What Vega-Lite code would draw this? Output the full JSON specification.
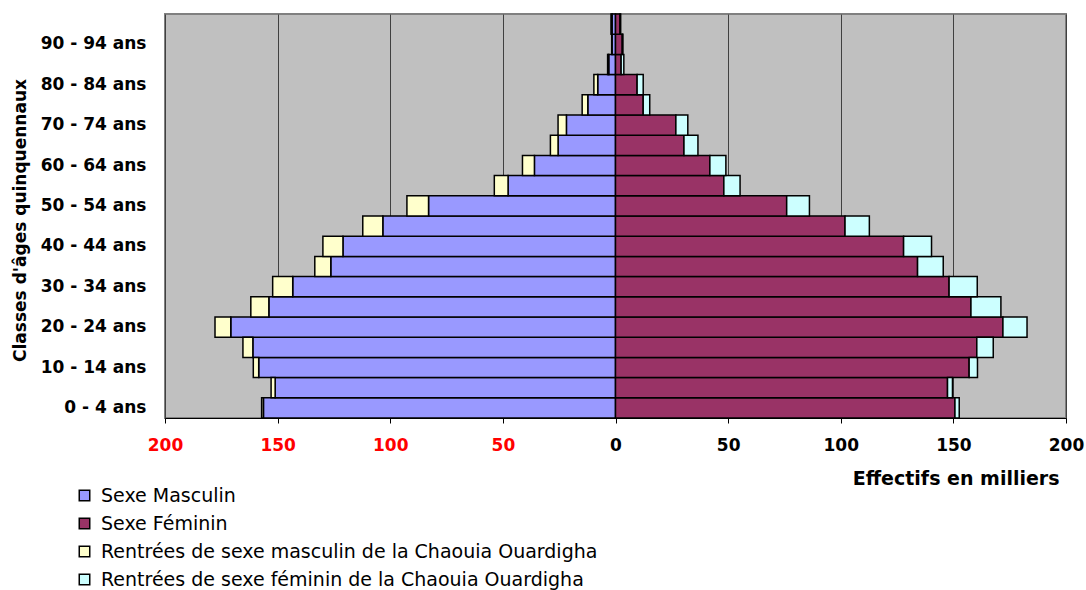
{
  "$schema": "https://vega.github.io/schema/vega-lite/v6.json",
  "autosize": "none",
  "width": 901,
  "height": 404,
  "padding": {"left": 165, "top": 14, "right": 20, "bottom": 172},
  "background": "white",
  "config": {
    "view": {"fill": "#C0C0C0", "stroke": "#808080", "strokeWidth": 2},
    "font": "DejaVu Sans"
  },
  "data": {
    "values": [
      {"age": "0 - 4 ans", "serie": "Sexe Masculin", "ord": 1, "effectif": -156.3},
      {"age": "5 - 9 ans", "serie": "Sexe Masculin", "ord": 1, "effectif": -151.1},
      {"age": "10 - 14 ans", "serie": "Sexe Masculin", "ord": 1, "effectif": -158.4},
      {"age": "15 - 19 ans", "serie": "Sexe Masculin", "ord": 1, "effectif": -161.0},
      {"age": "20 - 24 ans", "serie": "Sexe Masculin", "ord": 1, "effectif": -170.8},
      {"age": "25 - 29 ans", "serie": "Sexe Masculin", "ord": 1, "effectif": -153.9},
      {"age": "30 - 34 ans", "serie": "Sexe Masculin", "ord": 1, "effectif": -143.3},
      {"age": "35 - 39 ans", "serie": "Sexe Masculin", "ord": 1, "effectif": -126.4},
      {"age": "40 - 44 ans", "serie": "Sexe Masculin", "ord": 1, "effectif": -121.0},
      {"age": "45 - 49 ans", "serie": "Sexe Masculin", "ord": 1, "effectif": -103.3},
      {"age": "50 - 54 ans", "serie": "Sexe Masculin", "ord": 1, "effectif": -83.0},
      {"age": "55 - 59 ans", "serie": "Sexe Masculin", "ord": 1, "effectif": -47.7},
      {"age": "60 - 64 ans", "serie": "Sexe Masculin", "ord": 1, "effectif": -36.0},
      {"age": "65 - 69 ans", "serie": "Sexe Masculin", "ord": 1, "effectif": -25.5},
      {"age": "70 - 74 ans", "serie": "Sexe Masculin", "ord": 1, "effectif": -21.8},
      {"age": "75 - 79 ans", "serie": "Sexe Masculin", "ord": 1, "effectif": -12.3},
      {"age": "80 - 84 ans", "serie": "Sexe Masculin", "ord": 1, "effectif": -7.9},
      {"age": "85 - 89 ans", "serie": "Sexe Masculin", "ord": 1, "effectif": -3.0},
      {"age": "90 - 94 ans", "serie": "Sexe Masculin", "ord": 1, "effectif": -1.5},
      {"age": "95 ans et +", "serie": "Sexe Masculin", "ord": 1, "effectif": -1.5},

      {"age": "0 - 4 ans", "serie": "Rentrées  de sexe masculin de la Chaouia Ouardigha", "ord": 2, "effectif": -0.8},
      {"age": "5 - 9 ans", "serie": "Rentrées  de sexe masculin de la Chaouia Ouardigha", "ord": 2, "effectif": -1.8},
      {"age": "10 - 14 ans", "serie": "Rentrées  de sexe masculin de la Chaouia Ouardigha", "ord": 2, "effectif": -2.4},
      {"age": "15 - 19 ans", "serie": "Rentrées  de sexe masculin de la Chaouia Ouardigha", "ord": 2, "effectif": -4.4},
      {"age": "20 - 24 ans", "serie": "Rentrées  de sexe masculin de la Chaouia Ouardigha", "ord": 2, "effectif": -7.0},
      {"age": "25 - 29 ans", "serie": "Rentrées  de sexe masculin de la Chaouia Ouardigha", "ord": 2, "effectif": -8.0},
      {"age": "30 - 34 ans", "serie": "Rentrées  de sexe masculin de la Chaouia Ouardigha", "ord": 2, "effectif": -8.9},
      {"age": "35 - 39 ans", "serie": "Rentrées  de sexe masculin de la Chaouia Ouardigha", "ord": 2, "effectif": -7.1},
      {"age": "40 - 44 ans", "serie": "Rentrées  de sexe masculin de la Chaouia Ouardigha", "ord": 2, "effectif": -8.9},
      {"age": "45 - 49 ans", "serie": "Rentrées  de sexe masculin de la Chaouia Ouardigha", "ord": 2, "effectif": -8.9},
      {"age": "50 - 54 ans", "serie": "Rentrées  de sexe masculin de la Chaouia Ouardigha", "ord": 2, "effectif": -9.6},
      {"age": "55 - 59 ans", "serie": "Rentrées  de sexe masculin de la Chaouia Ouardigha", "ord": 2, "effectif": -6.1},
      {"age": "60 - 64 ans", "serie": "Rentrées  de sexe masculin de la Chaouia Ouardigha", "ord": 2, "effectif": -5.3},
      {"age": "65 - 69 ans", "serie": "Rentrées  de sexe masculin de la Chaouia Ouardigha", "ord": 2, "effectif": -3.4},
      {"age": "70 - 74 ans", "serie": "Rentrées  de sexe masculin de la Chaouia Ouardigha", "ord": 2, "effectif": -3.7},
      {"age": "75 - 79 ans", "serie": "Rentrées  de sexe masculin de la Chaouia Ouardigha", "ord": 2, "effectif": -2.5},
      {"age": "80 - 84 ans", "serie": "Rentrées  de sexe masculin de la Chaouia Ouardigha", "ord": 2, "effectif": -1.7},
      {"age": "85 - 89 ans", "serie": "Rentrées  de sexe masculin de la Chaouia Ouardigha", "ord": 2, "effectif": -0.5},
      {"age": "90 - 94 ans", "serie": "Rentrées  de sexe masculin de la Chaouia Ouardigha", "ord": 2, "effectif": -0.2},
      {"age": "95 ans et +", "serie": "Rentrées  de sexe masculin de la Chaouia Ouardigha", "ord": 2, "effectif": -0.5},

      {"age": "0 - 4 ans", "serie": "Sexe Féminin", "ord": 1, "effectif": 150.7},
      {"age": "5 - 9 ans", "serie": "Sexe Féminin", "ord": 1, "effectif": 147.4},
      {"age": "10 - 14 ans", "serie": "Sexe Féminin", "ord": 1, "effectif": 157.0},
      {"age": "15 - 19 ans", "serie": "Sexe Féminin", "ord": 1, "effectif": 160.4},
      {"age": "20 - 24 ans", "serie": "Sexe Féminin", "ord": 1, "effectif": 172.0},
      {"age": "25 - 29 ans", "serie": "Sexe Féminin", "ord": 1, "effectif": 157.8},
      {"age": "30 - 34 ans", "serie": "Sexe Féminin", "ord": 1, "effectif": 148.1},
      {"age": "35 - 39 ans", "serie": "Sexe Féminin", "ord": 1, "effectif": 134.1},
      {"age": "40 - 44 ans", "serie": "Sexe Féminin", "ord": 1, "effectif": 127.9},
      {"age": "45 - 49 ans", "serie": "Sexe Féminin", "ord": 1, "effectif": 101.9},
      {"age": "50 - 54 ans", "serie": "Sexe Féminin", "ord": 1, "effectif": 76.0},
      {"age": "55 - 59 ans", "serie": "Sexe Féminin", "ord": 1, "effectif": 48.1},
      {"age": "60 - 64 ans", "serie": "Sexe Féminin", "ord": 1, "effectif": 41.9},
      {"age": "65 - 69 ans", "serie": "Sexe Féminin", "ord": 1, "effectif": 30.4},
      {"age": "70 - 74 ans", "serie": "Sexe Féminin", "ord": 1, "effectif": 26.8},
      {"age": "75 - 79 ans", "serie": "Sexe Féminin", "ord": 1, "effectif": 12.3},
      {"age": "80 - 84 ans", "serie": "Sexe Féminin", "ord": 1, "effectif": 9.6},
      {"age": "85 - 89 ans", "serie": "Sexe Féminin", "ord": 1, "effectif": 2.5},
      {"age": "90 - 94 ans", "serie": "Sexe Féminin", "ord": 1, "effectif": 3.0},
      {"age": "95 ans et +", "serie": "Sexe Féminin", "ord": 1, "effectif": 2.0},

      {"age": "0 - 4 ans", "serie": "Rentrées  de sexe féminin de la Chaouia Ouardigha", "ord": 2, "effectif": 1.9},
      {"age": "5 - 9 ans", "serie": "Rentrées  de sexe féminin de la Chaouia Ouardigha", "ord": 2, "effectif": 2.2},
      {"age": "10 - 14 ans", "serie": "Rentrées  de sexe féminin de la Chaouia Ouardigha", "ord": 2, "effectif": 3.7},
      {"age": "15 - 19 ans", "serie": "Rentrées  de sexe féminin de la Chaouia Ouardigha", "ord": 2, "effectif": 7.3},
      {"age": "20 - 24 ans", "serie": "Rentrées  de sexe féminin de la Chaouia Ouardigha", "ord": 2, "effectif": 10.7},
      {"age": "25 - 29 ans", "serie": "Rentrées  de sexe féminin de la Chaouia Ouardigha", "ord": 2, "effectif": 13.3},
      {"age": "30 - 34 ans", "serie": "Rentrées  de sexe féminin de la Chaouia Ouardigha", "ord": 2, "effectif": 12.5},
      {"age": "35 - 39 ans", "serie": "Rentrées  de sexe féminin de la Chaouia Ouardigha", "ord": 2, "effectif": 11.4},
      {"age": "40 - 44 ans", "serie": "Rentrées  de sexe féminin de la Chaouia Ouardigha", "ord": 2, "effectif": 12.4},
      {"age": "45 - 49 ans", "serie": "Rentrées  de sexe féminin de la Chaouia Ouardigha", "ord": 2, "effectif": 10.8},
      {"age": "50 - 54 ans", "serie": "Rentrées  de sexe féminin de la Chaouia Ouardigha", "ord": 2, "effectif": 10.1},
      {"age": "55 - 59 ans", "serie": "Rentrées  de sexe féminin de la Chaouia Ouardigha", "ord": 2, "effectif": 7.2},
      {"age": "60 - 64 ans", "serie": "Rentrées  de sexe féminin de la Chaouia Ouardigha", "ord": 2, "effectif": 7.1},
      {"age": "65 - 69 ans", "serie": "Rentrées  de sexe féminin de la Chaouia Ouardigha", "ord": 2, "effectif": 6.2},
      {"age": "70 - 74 ans", "serie": "Rentrées  de sexe féminin de la Chaouia Ouardigha", "ord": 2, "effectif": 5.3},
      {"age": "75 - 79 ans", "serie": "Rentrées  de sexe féminin de la Chaouia Ouardigha", "ord": 2, "effectif": 2.9},
      {"age": "80 - 84 ans", "serie": "Rentrées  de sexe féminin de la Chaouia Ouardigha", "ord": 2, "effectif": 2.7},
      {"age": "85 - 89 ans", "serie": "Rentrées  de sexe féminin de la Chaouia Ouardigha", "ord": 2, "effectif": 1.2},
      {"age": "90 - 94 ans", "serie": "Rentrées  de sexe féminin de la Chaouia Ouardigha", "ord": 2, "effectif": 0.3},
      {"age": "95 ans et +", "serie": "Rentrées  de sexe féminin de la Chaouia Ouardigha", "ord": 2, "effectif": 0.3}
    ]
  },
  "mark": {"type": "bar", "stroke": "black", "strokeWidth": 1.5},
  "encoding": {
    "y": {
      "field": "age",
      "type": "nominal",
      "sort": ["95 ans et +", "90 - 94 ans", "85 - 89 ans", "80 - 84 ans", "75 - 79 ans", "70 - 74 ans", "65 - 69 ans", "60 - 64 ans", "55 - 59 ans", "50 - 54 ans", "45 - 49 ans", "40 - 44 ans", "35 - 39 ans", "30 - 34 ans", "25 - 29 ans", "20 - 24 ans", "15 - 19 ans", "10 - 14 ans", "5 - 9 ans", "0 - 4 ans"],
      "scale": {"paddingInner": 0, "paddingOuter": 0},
      "axis": {
        "values": ["90 - 94 ans", "80 - 84 ans", "70 - 74 ans", "60 - 64 ans", "50 - 54 ans", "40 - 44 ans", "30 - 34 ans", "20 - 24 ans", "10 - 14 ans", "0 - 4 ans"],
        "title": "Classes d'âges quinquennaux",
        "titleFont": "DejaVu Sans",
        "titleFontWeight": "bold",
        "titleFontSize": 17,
        "titleColor": "black",
        "titleAngle": 270,
        "titleX": -145,
        "titleY": 206,
        "titleAlign": "center",
        "titleBaseline": "middle",
        "labelFont": "DejaVu Sans",
        "labelFontWeight": "bold",
        "labelFontSize": 17,
        "labelColor": "black",
        "ticks": false,
        "tickSize": 0,
        "labelPadding": 19,
        "domain": false,
        "grid": false
      }
    },
    "x": {
      "field": "effectif",
      "type": "quantitative",
      "stack": "zero",
      "scale": {"domain": [-200, 200], "nice": false},
      "axis": {
        "values": [-200, -150, -100, -50, 0, 50, 100, 150, 200],
        "labelExpr": "format(abs(datum.value), 'd')",
        "labelColor": {"condition": {"test": "datum.value < 0", "value": "#FF0000"}, "value": "#000000"},
        "labelFont": "DejaVu Sans",
        "labelFontWeight": "bold",
        "labelFontSize": 17,
        "labelFlush": false,
        "labelOverlap": false,
        "labelBaseline": "middle",
        "labelPadding": 22,
        "tickSize": 5,
        "tickColor": "black",
        "domainColor": "black",
        "domainWidth": 1,
        "grid": true,
        "gridColor": "#404040",
        "gridWidth": 1,
        "gridOpacity": 1,
        "title": "Effectifs en milliers",
        "titleFont": "DejaVu Sans",
        "titleFontWeight": "bold",
        "titleFontSize": 19,
        "titleColor": "black",
        "titleAnchor": "end",
        "titleAlign": "right",
        "titleBaseline": "middle",
        "titleX": 894,
        "titleY": 60
      }
    },
    "order": {"field": "ord", "type": "quantitative"},
    "color": {
      "field": "serie",
      "type": "nominal",
      "scale": {
        "domain": ["Sexe Masculin", "Sexe Féminin", "Rentrées  de sexe masculin de la Chaouia Ouardigha", "Rentrées  de sexe féminin de la Chaouia Ouardigha"],
        "range": ["#9999FF", "#993366", "#FFFFCC", "#CCFFFF"]
      },
      "legend": {
        "title": null,
        "orient": "none",
        "legendX": -90,
        "legendY": 472,
        "direction": "vertical",
        "padding": 0,
        "symbolType": "square",
        "symbolSize": 110,
        "symbolStrokeColor": "black",
        "symbolStrokeWidth": 1.5,
        "labelFont": "DejaVu Sans",
        "labelFontSize": 19,
        "labelColor": "black",
        "labelOffset": 7,
        "labelLimit": 800,
        "rowPadding": 8
      }
    }
  }
}
